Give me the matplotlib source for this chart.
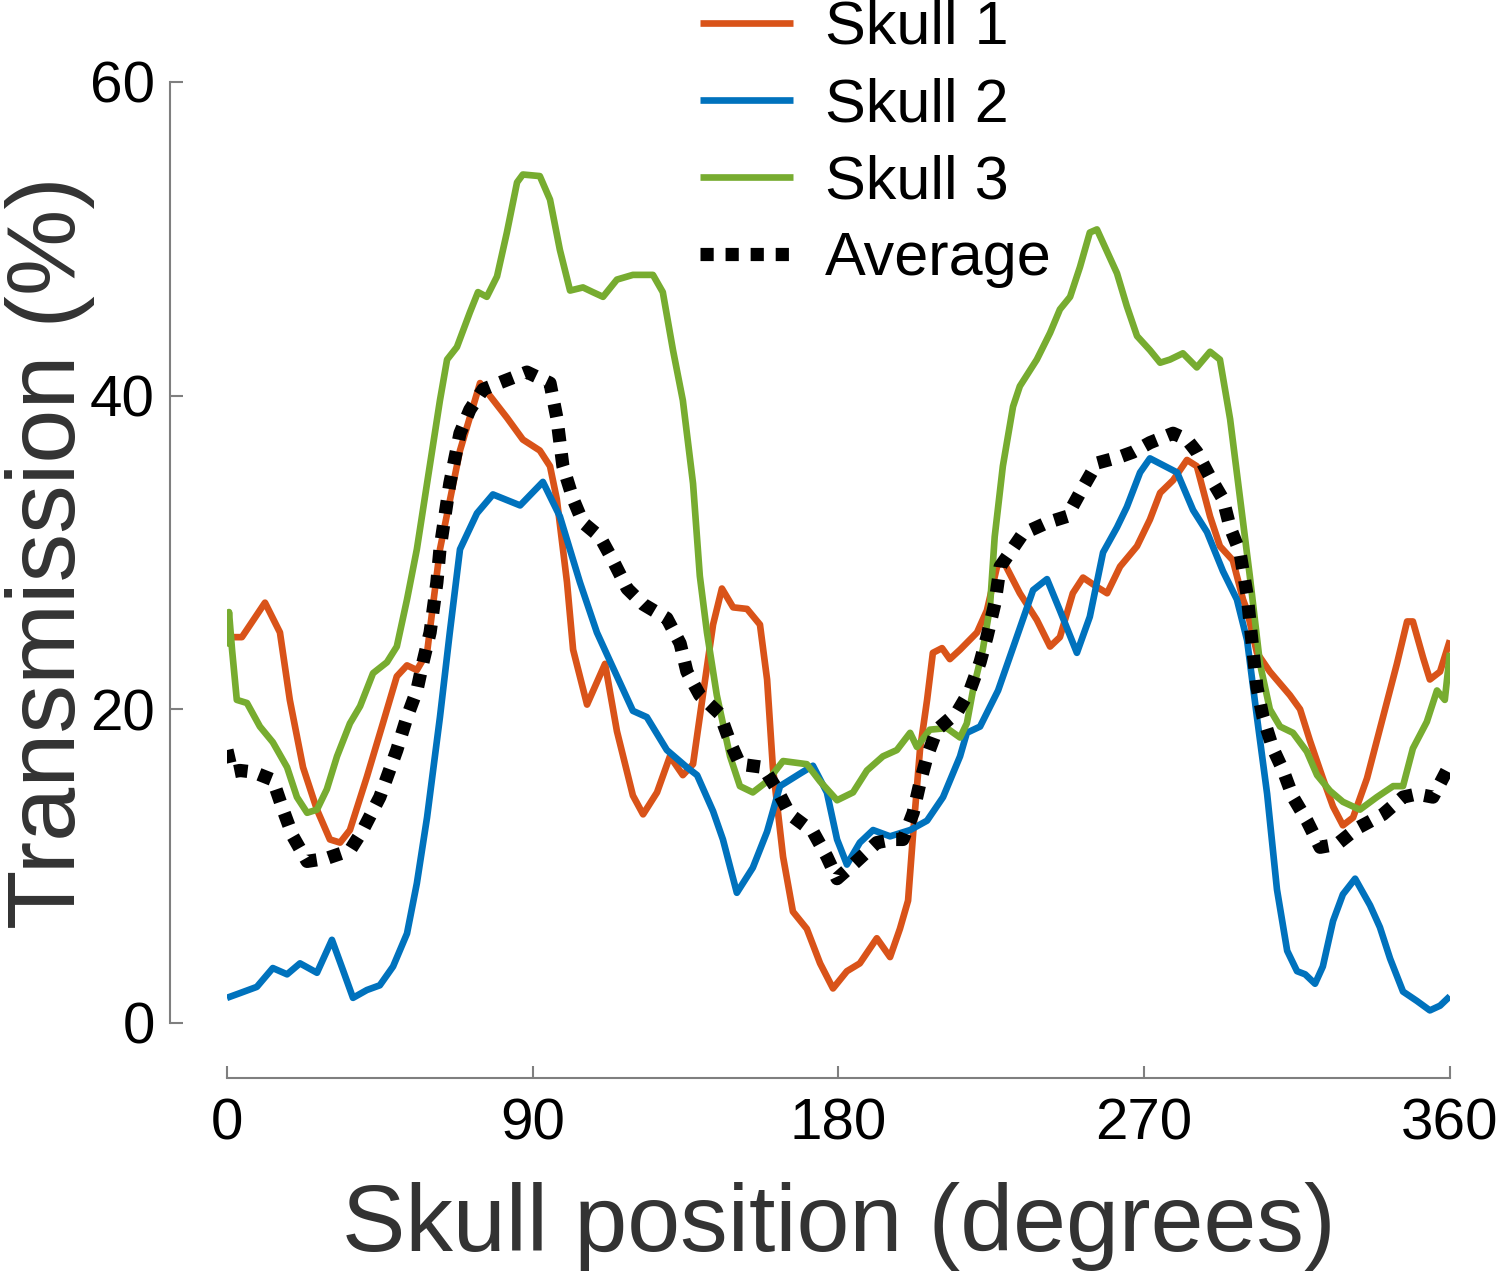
import numpy as np
import matplotlib
matplotlib.use("Agg")
from matplotlib import pyplot as plt

plt.rcParams['font.family'] = ['Liberation Sans', 'DejaVu Sans']

# (degrees, transmission %)
skull1 = [(0, 24.6), (4.4, 24.6), (11.2, 26.8), (15.6, 24.9), (18.5, 20.6), (22.4, 16.3), (26.5, 13.6),
          (30.3, 11.7), (33.3, 11.5), (36.2, 12.3), (41.2, 15.7), (45.9, 19.1), (50.0, 22.1), (53.0, 22.8),
          (55.9, 22.5), (58.9, 23.6), (62.7, 30.2), (68.6, 36.5), (74.5, 40.8), (82.4, 38.6), (87.1, 37.2),
          (92.1, 36.5), (95.1, 35.5), (97.1, 33.4), (100.1, 28.1), (101.9, 23.8), (106.0, 20.3), (111.3, 22.9),
          (114.8, 18.6), (119.5, 14.5), (122.5, 13.3), (126.6, 14.7), (130.4, 17.0), (134.2, 15.8), (137.2, 16.5),
          (140.1, 20.9), (143.1, 25.4), (145.7, 27.7), (149.0, 26.5), (153.1, 26.4), (156.9, 25.4), (159.0, 21.9),
          (160.7, 16.3), (163.7, 10.6), (166.6, 7.1), (170.7, 6.0), (174.6, 3.8), (178.4, 2.2), (182.5, 3.3),
          (186.3, 3.8), (191.3, 5.4), (195.2, 4.2), (198.1, 6.0), (200.5, 7.8), (202.0, 12.1), (204.0, 17.4),
          (206.1, 20.6), (207.8, 23.6), (210.5, 23.9), (212.8, 23.2), (215.8, 23.8), (220.8, 24.9), (223.7, 26.3),
          (226.7, 29.1), (228.4, 29.5), (233.4, 27.4), (238.4, 25.7), (242.3, 24.0), (245.2, 24.6), (249.0, 27.4),
          (252.0, 28.4), (256.1, 27.8), (259.1, 27.4), (262.9, 29.1), (267.9, 30.4), (271.7, 32.1), (274.7, 33.8),
          (278.5, 34.6), (282.6, 35.9), (285.5, 35.5), (289.4, 32.3), (292.3, 30.4), (296.1, 29.5), (299.1, 27.0),
          (300.3, 26.3), (303.2, 23.6), (307.0, 22.4), (312.9, 20.9), (315.9, 20.0), (318.8, 18.0), (322.6, 15.6),
          (325.6, 13.8), (328.5, 12.6), (331.5, 13.1), (335.6, 15.6), (340.3, 19.5), (344.4, 22.9), (347.4, 25.6),
          (349.1, 25.6), (352.1, 23.3), (354.1, 21.9), (357.1, 22.4), (360, 24.4)]

skull2 = [(0, 1.6), (3.8, 1.9), (8.8, 2.3), (13.5, 3.5), (17.7, 3.1), (21.5, 3.8), (26.5, 3.2), (30.9, 5.3),
          (34.1, 3.4), (37.1, 1.6), (41.2, 2.1), (45.0, 2.4), (48.9, 3.6), (53.0, 5.7), (55.9, 8.9), (58.9, 13.1),
          (62.7, 19.5), (65.6, 24.9), (68.6, 30.2), (73.6, 32.5), (78.3, 33.7), (86.3, 33.0), (93.0, 34.5),
          (98.0, 32.3), (103.9, 28.1), (108.9, 24.9), (112.7, 23.1), (119.5, 19.9), (123.6, 19.5), (129.5, 17.4),
          (135.4, 16.3), (138.4, 15.8), (143.1, 13.5), (146.0, 11.7), (150.1, 8.3), (154.8, 9.9), (159.0, 12.2),
          (162.8, 15.1), (168.7, 15.9), (172.5, 16.4), (176.6, 14.7), (179.6, 11.7), (182.5, 10.1), (186.3, 11.5),
          (190.2, 12.3), (195.2, 11.9), (201.1, 12.3), (206.1, 12.9), (210.8, 14.4), (215.8, 17.0), (217.8, 18.5),
          (221.7, 18.9), (227.0, 21.2), (232.0, 24.3), (237.3, 27.6), (241.4, 28.3), (245.2, 26.3), (250.2, 23.6),
          (254.0, 25.9), (257.9, 30.0), (262.0, 31.6), (264.9, 32.9), (268.8, 35.1), (271.7, 36.0), (279.7, 35.1),
          (284.4, 32.7), (288.5, 31.3), (293.2, 28.8), (297.3, 27.0), (300.3, 24.4), (303.2, 19.5), (306.2, 14.6),
          (309.1, 8.5), (312.1, 4.6), (315.0, 3.3), (317.4, 3.1), (320.3, 2.5), (322.6, 3.6), (325.6, 6.5),
          (328.5, 8.2), (332.1, 9.2), (336.5, 7.5), (339.4, 6.1), (342.4, 4.1), (346.2, 2.0), (350.3, 1.4),
          (354.1, 0.8), (357.1, 1.1), (360, 1.7)]

skull3 = [(0, 24.0), (0.6, 26.2), (1.5, 23.8), (2.9, 20.6), (5.9, 20.4), (9.7, 18.9), (13.5, 17.9), (17.7, 16.3),
          (20.6, 14.4), (23.6, 13.4), (26.5, 13.6), (29.4, 14.9), (32.4, 17.0), (36.2, 19.1), (39.2, 20.2),
          (43.0, 22.3), (47.1, 23.0), (50.0, 24.0), (53.0, 27.0), (55.9, 30.2), (58.9, 34.4), (62.7, 39.7),
          (64.8, 42.3), (67.7, 43.1), (71.5, 45.3), (73.9, 46.6), (76.5, 46.3), (79.5, 47.6), (82.4, 50.4),
          (85.4, 53.6), (87.1, 54.1), (92.1, 54.0), (95.1, 52.5), (98.0, 49.3), (101.0, 46.7), (104.8, 46.9),
          (107.7, 46.6), (110.7, 46.3), (114.8, 47.4), (119.5, 47.7), (125.4, 47.7), (128.3, 46.6), (131.3, 42.9),
          (134.2, 39.7), (137.2, 34.4), (139.2, 28.5), (141.3, 24.9), (144.2, 20.9), (148.1, 17.0), (151.0, 15.1),
          (154.8, 14.7), (159.0, 15.4), (163.7, 16.7), (170.7, 16.5), (174.6, 15.4), (179.6, 14.2), (184.3, 14.7),
          (188.4, 16.1), (193.1, 17.0), (197.2, 17.4), (201.1, 18.5), (203.1, 17.6), (206.9, 18.7), (211.9, 18.8),
          (215.8, 18.2), (217.8, 19.1), (219.6, 21.2), (222.5, 23.8), (224.6, 26.5), (226.0, 31.0), (228.4, 35.5),
          (231.4, 39.3), (233.4, 40.6), (238.4, 42.3), (242.3, 44.0), (245.2, 45.5), (248.2, 46.3), (251.1, 48.2),
          (254.0, 50.4), (256.1, 50.6), (262.0, 47.8), (264.9, 45.7), (267.9, 43.8), (271.7, 42.9), (274.7, 42.1),
          (277.6, 42.3), (281.4, 42.7), (285.5, 41.8), (289.4, 42.8), (292.3, 42.3), (295.3, 38.5), (298.2, 33.5),
          (301.1, 28.5), (304.1, 22.9), (307.0, 20.0), (310.0, 18.9), (313.8, 18.5), (317.9, 17.3), (320.9, 15.8),
          (324.7, 14.8), (328.5, 14.1), (333.5, 13.6), (338.5, 14.4), (343.3, 15.1), (346.2, 15.1), (349.1, 17.5),
          (353.2, 19.2), (356.2, 21.2), (358.5, 20.6), (360, 23.6)]

average = [(0, 17.4), (1.5, 16.0), (3.8, 16.1), (7.7, 16.0), (13.5, 15.5), (16.5, 13.6), (19.4, 11.9), (23.6, 10.3),
           (29.4, 10.5), (36.2, 11.0), (40.0, 12.3), (45.0, 14.4), (50.0, 17.4), (53.0, 19.5), (55.9, 21.2),
           (57.7, 23.0), (59.8, 24.9), (61.8, 28.1), (62.7, 30.2), (65.6, 34.4), (68.6, 37.6), (71.5, 39.1),
           (75.4, 40.4), (82.4, 41.0), (88.3, 41.5), (95.1, 40.8), (97.1, 38.6), (98.9, 35.5), (101.9, 33.4),
           (104.8, 31.9), (109.8, 31.0), (113.6, 29.5), (117.8, 27.7), (122.5, 26.7), (129.5, 25.8), (133.4, 24.2),
           (135.4, 22.4), (139.2, 20.9), (145.1, 19.7), (148.1, 17.9), (151.0, 16.5), (157.8, 16.3), (161.9, 14.9),
           (165.7, 13.3), (172.5, 12.2), (176.6, 10.6), (179.6, 9.2), (184.3, 10.1), (191.3, 11.5), (196.1, 11.7),
           (199.0, 11.7), (202.0, 13.4), (204.0, 15.3), (206.1, 17.0), (209.0, 18.7), (214.9, 19.8), (218.7, 21.2),
           (221.7, 23.0), (223.7, 24.6), (226.1, 26.8), (227.6, 29.1), (230.5, 30.0), (234.3, 31.2), (241.4, 31.9),
           (247.3, 32.3), (251.1, 33.8), (256.1, 35.7), (262.9, 36.1), (266.7, 36.4), (271.7, 37.0), (278.5, 37.6),
           (282.6, 37.2), (285.5, 36.4), (289.4, 34.8), (293.2, 33.4), (295.3, 31.6), (298.2, 30.0), (300.3, 27.3),
           (301.7, 24.4), (303.2, 21.4), (305.0, 19.5), (307.9, 17.5), (310.9, 16.1), (313.8, 14.4), (317.9, 12.9),
           (321.8, 11.2), (326.8, 11.4), (332.6, 12.4), (340.3, 13.3), (346.2, 14.4), (350.3, 14.6), (355.0, 14.4),
           (359.1, 16.1), (360, 16.1)]

labels = ['Skull 1', 'Skull 2', 'Skull 3', 'Average']
xticks = [0, 90, 180, 270, 360]
yticks = [0, 20, 40, 60]

fig = plt.figure(figsize=(15, 12.79), dpi=100)
ax = fig.add_axes([0.1513, 0.2002, 0.8153, 0.7357])

colores = ['#D95319', '#0072BD', '#77AC30']
for serie, c, lab in zip([skull1, skull2, skull3], colores, labels[:3]):
	x, y = np.array(serie).T
	ax.plot(x, y, color=c, lw=4.8, label=lab, solid_joinstyle='round', solid_capstyle='butt')

x, y = np.array(average).T
ax.plot(x, y, color='black', lw=9.5, dashes=(1.0, 0.9), dash_capstyle='butt', label=labels[3])

ax.set_xlim(0, 360)
ax.set_ylim(0, 60)
ax.set_xticks(xticks)
ax.set_yticks(yticks)

gris = '#7f7f7f'
for lado in ['top', 'right']:
	ax.spines[lado].set_visible(False)
ax.spines['left'].set_position(('outward', 41))
ax.spines['bottom'].set_position(('outward', 40))
ax.spines['left'].set_bounds(0, 60)
ax.spines['bottom'].set_bounds(0, 360)
for lado in ['left', 'bottom']:
	ax.spines[lado].set_color(gris)
	ax.spines[lado].set_linewidth(1.5)

ax.tick_params(axis='both', direction='in', length=9, width=1.5, color=gris, labelsize=42, labelcolor='black')
ax.tick_params(axis='y', pad=11)
ax.tick_params(axis='x', pad=14)

ax.set_xlabel('Skull position (degrees)', fontsize=68.5, color='#333333', labelpad=22)
ax.set_ylabel('Transmission (%)', fontsize=70, color='#333333', labelpad=-4)

leg = fig.legend(loc='upper left', bbox_to_anchor=(0.4667, 1.0), bbox_transform=fig.transFigure,
                 frameon=False, fontsize=44, handlelength=1.52, handletextpad=0.52,
                 labelspacing=0.33, borderpad=0, borderaxespad=0)

fig.savefig('out.png', dpi=100)
